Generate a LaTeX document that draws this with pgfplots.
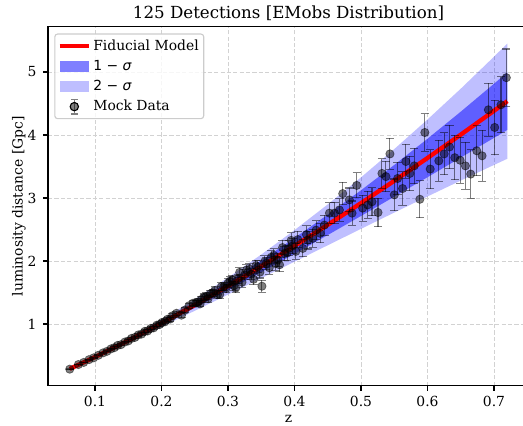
\documentclass[border=0pt]{standalone}
\usepackage{fontspec}
\setmainfont{DejaVu Serif}
\newfontfamily\dvs{DejaVu Sans}
\usepackage{pgfplots}
\pgfplotsset{compat=1.18}
\usepackage{pgfplotstable}
\usepgfplotslibrary{fillbetween}

% fiducial curve and the 1/2-sigma envelopes
\pgfplotstableread{
z     dl     lo2    lo1    hi1    hi2
0.062 0.2871 0.2821 0.2846 0.2896 0.2921
0.10  0.4756 0.4623 0.4689 0.4823 0.4889
0.15  0.7366 0.7057 0.7211 0.7521 0.7675
0.20  1.0118 0.9551 0.9835 1.0401 1.0685
0.25  1.3006 1.2096 1.2551 1.3461 1.3916
0.30  1.6020 1.4674 1.5347 1.6693 1.7366
0.35  1.9152 1.7275 1.8214 2.0090 2.1029
0.40  2.2396 1.9888 2.1142 2.3650 2.4904
0.45  2.5744 2.2500 2.4122 2.7366 2.8988
0.50  2.9191 2.5104 2.7148 3.1234 3.3278
0.55  3.2730 2.7690 3.0210 3.5250 3.7770
0.60  3.6355 3.0247 3.3301 3.9409 4.2463
0.65  4.0062 3.2771 3.6416 4.3708 4.7353
0.70  4.3845 3.5251 3.9548 4.8142 5.2439
0.72  4.5378 3.6230 4.0804 4.9952 5.4526
}\band

% mock detections: z, d_L [Gpc], error
\pgfplotstableread{
z      d     e
0.062  0.283 0.0025
0.075  0.356 0.0037
0.083  0.390 0.0046
0.091  0.434 0.0055
0.098  0.463 0.0064
0.105  0.503 0.0074
0.112  0.541 0.0084
0.118  0.566 0.0094
0.124  0.605 0.0104
0.129  0.624 0.0113
0.134  0.660 0.0123
0.139  0.672 0.0132
0.145  0.714 0.0144
0.150  0.731 0.0155
0.155  0.772 0.0166
0.160  0.787 0.0177
0.165  0.826 0.0189
0.170  0.840 0.0202
0.175  0.884 0.0214
0.179  0.889 0.0225
0.184  0.931 0.0238
0.188  0.938 0.0249
0.193  0.982 0.0263
0.197  0.990 0.0275
0.201  1.026 0.0286
0.205  1.034 0.0299
0.209  1.075 0.0311
0.213  1.078 0.0324
0.2165 1.13  0.0336
0.2225 1.17  0.0356
0.230  1.14  0.0382
0.235  1.22  0.0399
0.2415 1.29  0.0423
0.2475 1.33  0.0446
0.252  1.333 0.0463
0.255  1.35  0.0475
0.258  1.319 0.0487
0.260  1.39  0.0495
0.264  1.425 0.0512
0.2675 1.44  0.0527
0.270  1.401 0.0537
0.2735 1.48  0.0552
0.277  1.493 0.0568
0.280  1.53  0.0581
0.284  1.466 0.0599
0.2875 1.47  0.0614
0.290  1.592 0.0626
0.2935 1.59  0.0642
0.297  1.564 0.0659
0.300  1.65  0.0673
0.303  1.681 0.0688
0.3065 1.70  0.0705
0.309  1.608 0.0717
0.3115 1.57  0.0730
0.315  1.716 0.0748
0.3175 1.82  0.0761
0.321  1.664 0.0779
0.325  1.78  0.0800
0.328  1.857 0.0816
0.3325 1.87  0.0840
0.335  1.791 0.0854
0.3385 1.71  0.0873
0.342  1.925 0.0893
0.345  1.91  0.0910
0.348  1.823 0.0927
0.351  1.60  0.0944
0.355  1.988 0.0968
0.3575 1.96  0.0983
0.362  1.893 0.1010
0.365  2.06  0.1028
0.369  2.089 0.1053
0.3715 1.96  0.1069
0.375  2.017 0.1091
0.3775 1.94  0.1107
0.382  2.213 0.1135
0.385  2.12  0.1155
0.389  2.128 0.1181
0.3915 2.20  0.1197
0.395  2.327 0.1220
0.3975 2.24  0.1237
0.402  2.153 0.1268
0.405  2.34  0.1289
0.4125 2.20  0.1342
0.418  2.420 0.1381
0.420  2.33  0.1396
0.4275 2.36  0.1451
0.4325 2.49  0.1488
0.4385 2.44  0.1533
0.445  2.57  0.1583
0.4525 2.76  0.1642
0.460  2.76  0.1702
0.4675 2.81  0.1764
0.4725 3.07  0.1806
0.4825 2.97  0.1890
0.4865 2.76  0.1925
0.4935 3.20  0.1986
0.5025 2.84  0.2066
0.510  2.89  0.2135
0.5165 2.94  0.2195
0.5255 2.77  0.2280
0.5315 3.39  0.2338
0.5375 3.34  0.2396
0.5435 3.70  0.2455
0.550  3.05  0.2520
0.555  3.31  0.2571
0.5625 3.15  0.2649
0.5675 3.58  0.2701
0.5735 3.39  0.2765
0.580  3.51  0.2834
0.5885 2.98  0.2927
0.596  4.04  0.3009
0.604  3.46  0.3099
0.617  3.59  0.3249
0.625  3.70  0.3343
0.633  3.81  0.3439
0.641  3.64  0.3535
0.649  3.60  0.3633
0.657  3.51  0.3734
0.665  3.38  0.3835
0.674  3.75  0.3952
0.682  3.67  0.4056
0.6915 4.40  0.4182
0.701  4.12  0.4310
0.7105 4.48  0.4441
0.7185 4.91  0.4553
}\mock

\begin{document}
\begin{tikzpicture}
\begin{axis}[
    name=ax,
    width=346.3pt, height=258.5pt, scale only axis,
    xmin=0.0293, xmax=0.7526, ymin=0.02, ymax=5.72,
    xtick={0.1,0.2,0.3,0.4,0.5,0.6,0.7},
    xticklabels={0.1,0.2,0.3,0.4,0.5,0.6,0.7},
    ytick={1,2,3,4,5}, yticklabels={1,2,3,4,5},
    tick pos=left, tick align=outside, major tick length=3.5pt,
    tick style={black, line width=0.8pt},
    axis line style={black, line width=0.8pt},
    grid=major,
    grid style={gray!35, line width=0.6pt, dash pattern=on 3pt off 1.6pt},
    ticklabel style={font=\fontsize{10}{12}\selectfont},
    xticklabel style={anchor=base, yshift=-11.2pt, inner sep=0pt},
    yticklabel style={anchor=east, xshift=-4.6pt, inner sep=0pt},
    title={125 Detections [EMobs Distribution]},
    title style={at={(axis description cs:0.5,1.0214)}, anchor=base, yshift=-6pt,
        font=\fontsize{12}{14}\selectfont},
    xlabel={z},
    xlabel style={at={(axis description cs:0.5,-0.1035)}, anchor=base,
        font=\fontsize{10}{12}\selectfont},
    ylabel={luminosity distance [Gpc]},
    ylabel style={at={(axis description cs:-0.053,0.5)}, anchor=base,
        font=\fontsize{10}{12}\selectfont},
    legend cell align=left,
    legend style={at={(axis description cs:0.013,0.981)}, anchor=north west,
        draw=black!20, line width=0.8pt, rounded corners=2pt,
        fill=white, fill opacity=0.8, draw opacity=1, text opacity=1,
        font=\fontsize{10}{12}\selectfont,
        inner xsep=2pt, inner ysep=2.5pt, row sep=2.4pt,
        nodes={inner sep=1.6pt}},
]
    % envelopes
    \addplot[draw=none, name path=htwo, forget plot] table[x=z, y=hi2]{\band};
    \addplot[draw=none, name path=ltwo, forget plot] table[x=z, y=lo2]{\band};
    \addplot[draw=none, name path=hone, forget plot] table[x=z, y=hi1]{\band};
    \addplot[draw=none, name path=lone, forget plot] table[x=z, y=lo1]{\band};
    \addplot[blue, fill opacity=0.25, draw=none, forget plot] fill between[of=htwo and ltwo];
    \addplot[blue, fill opacity=0.5, draw=none, forget plot] fill between[of=hone and lone];

    % fiducial model
    \addplot[red, line width=3.1pt, forget plot] table[x=z, y=dl]{\band};

    % mock data
    \addplot[only marks, mark=*, mark size=3pt, forget plot,
        mark options={fill=black, draw=black, fill opacity=0.5, draw opacity=0.5, line width=0.5pt},
        error bars/.cd, y dir=both, y explicit,
        error bar style={black, opacity=0.5, line width=0.75pt},
        error mark options={rotate=90, mark size=3pt, black, opacity=0.5, line width=0.75pt}]
        table[x=z, y=d, y error=e]{\mock};

    \addlegendimage{legend image code/.code={
        \draw[red, line width=3.1pt, sharp corners] (0pt,0pt) -- (21pt,0pt);}}
    \addlegendentry{Fiducial Model}
    \addlegendimage{legend image code/.code={
        \fill[draw=none, sharp corners, blue, fill opacity=0.5] (0pt,-4pt) rectangle (21pt,4pt);}}
    \addlegendentry{{\dvs 1 − \textit{σ}}}
    \addlegendimage{legend image code/.code={
        \fill[draw=none, sharp corners, blue, fill opacity=0.25] (0pt,-4pt) rectangle (21pt,4pt);}}
    \addlegendentry{{\dvs 2 − \textit{σ}}}
    \addlegendimage{legend image code/.code={
        \draw[black, sharp corners, opacity=0.5, line width=0.75pt] (10.5pt,-5.3pt) -- (10.5pt,5.3pt)
            (8pt,-5.3pt) -- (13pt,-5.3pt) (8pt,5.3pt) -- (13pt,5.3pt);
        \fill[black, fill opacity=0.5] (10.5pt,0pt) circle (3pt);}}
    \addlegendentry{Mock Data}
\end{axis}
\pgfresetboundingbox
\path ([shift={(-34.56pt,-28.3pt)}]ax.south west) rectangle ([shift={(-4.32pt,19.2pt)}]ax.north east);
\end{tikzpicture}
\end{document}
